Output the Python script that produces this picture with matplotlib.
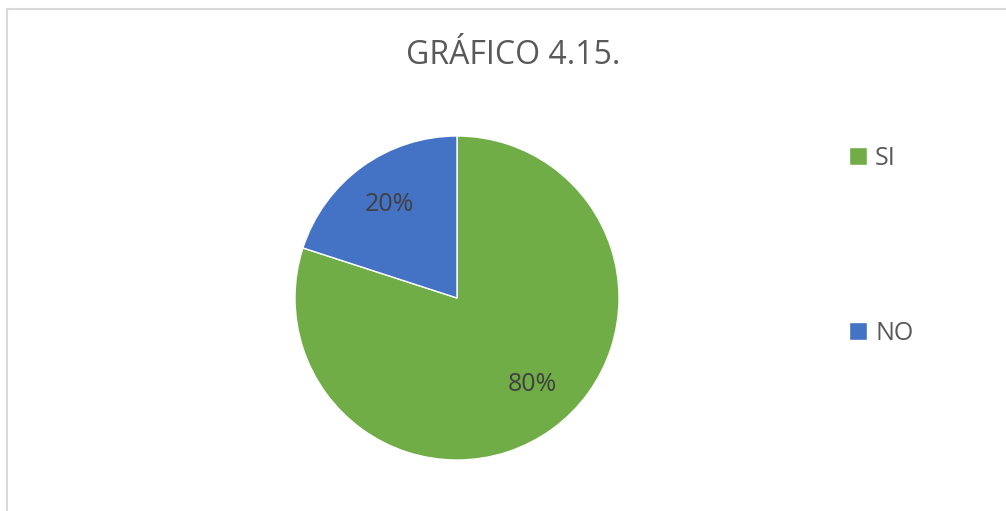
import matplotlib.pyplot as plt
from matplotlib.patches import Rectangle

labels = ['SI', 'NO']
values = [80, 20]
colors = ['#70AD47', '#4472C4']

plt.rcParams['font.family'] = ['Open Sans', 'DejaVu Sans']
text_color = '#595959'

fig = plt.figure(figsize=(10.06, 5.11), dpi=100)

# chart frame (light gray border)
fig.patches.append(Rectangle((7 / 1006, -0.1), 1.2, (511 - 9) / 511 + 0.1,
                             transform=fig.transFigure, fill=False,
                             edgecolor='#D9D9D9', linewidth=1.5))

# pie axes: centre (457, 298), radius 162 px
cx, cy, r = 457, 298, 162
ax = fig.add_axes([(cx - r) / 1006, (511 - cy - r) / 511, 2 * r / 1006, 2 * r / 511])
wedges, texts, autotexts = ax.pie(values, colors=colors, startangle=90,
                                  counterclock=False, autopct='%1.0f%%',
                                  pctdistance=0.71,
                                  wedgeprops=dict(edgecolor='white', linewidth=1),
                                  textprops=dict(color='#404040', fontsize=18))
ax.set_xlim(-1, 1)
ax.set_ylim(-1, 1)
ax.set_aspect('equal')

# excel's "best fit" puts the big label a little off the wedge bisector
x80, y80 = autotexts[0].get_position()
autotexts[0].set_position((x80 + 0.05, y80 + 0.04))

fig.text(513 / 1006, 1 - 64 / 511, 'GRÁFICO 4.15.', ha='center', va='baseline',
         fontsize=23, color=text_color)

fig.legend(wedges, labels, loc='center left',
           bbox_to_anchor=(849 / 1006, 1 - 246 / 511),
           frameon=False, fontsize=18, labelspacing=6.0, handlelength=0.72,
           handleheight=0.72, handletextpad=0.32, borderpad=0, borderaxespad=0,
           labelcolor=text_color)

fig.savefig('out.png', dpi=100)
